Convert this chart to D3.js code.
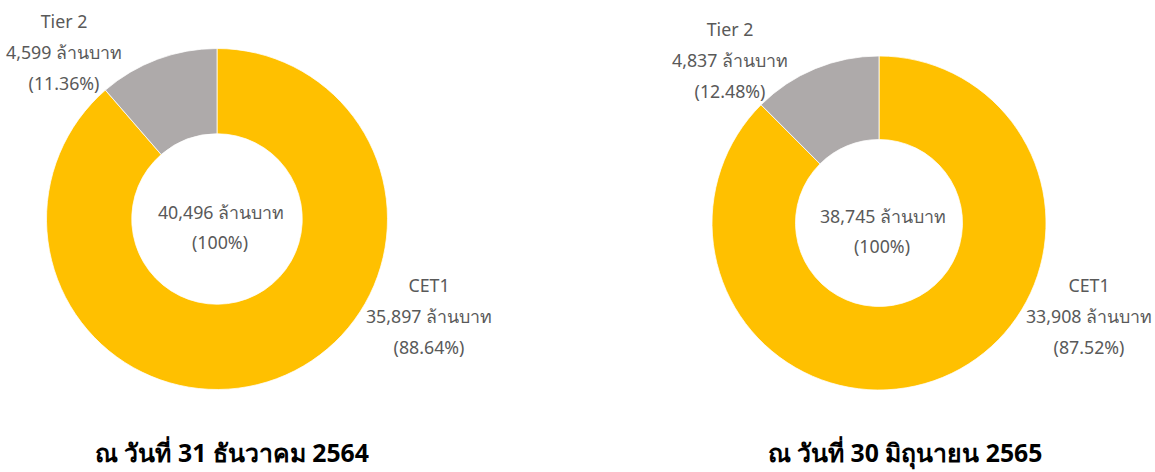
<!DOCTYPE html>
<html>
<head>
<meta charset="utf-8">
<script src="https://cdn.jsdelivr.net/npm/d3@7"></script>
<style>
  body { margin: 0; background: #fff; }
  svg { display: block; font-family: Tahoma, "Noto Sans", "DejaVu Sans", sans-serif; }
</style>
</head>
<body>
<div id="chart"></div>
<script>
// data
const categories = ["CET1", "Tier 2"];
const dateTitles = ["ณ วันที่ 31 ธันวาคม 2564", "ณ วันที่ 30 มิถุนายน 2565"];
const valuesDec2564 = [35897, 4599];
const valuesJun2565 = [33908, 4837];
const unit = "ล้านบาท";

const width = 1155, height = 472;

const svg = d3.select("#chart")
    .append("svg")
    .attr("width", width)
    .attr("height", height);

const colorScale = d3.scaleOrdinal()
    .domain(categories)
    .range(["#FFC000", "#AEAAAA"]);

const fmt = d3.format(",");
const pctFmt = d3.format(".2%");

// one donut per date
const charts = [
    { values: valuesDec2564, title: dateTitles[0], cx: 217, cy: 219, r: 170.5,
      labelPos: { "CET1": [212, 73], "Tier 2": [-153, -191] }, titleX: 232 },
    { values: valuesJun2565, title: dateTitles[1], cx: 879, cy: 223, r: 167,
      labelPos: { "CET1": [210, 69], "Tier 2": [-149, -187] }, titleX: 905 }
];

const pie = d3.pie().sort(null).value(d => d.value);

charts.forEach(c => {
    const data = categories.map((name, i) => ({ name: name, value: c.values[i] }));
    const total = d3.sum(data, d => d.value);

    const arc = d3.arc()
        .innerRadius(c.r * 0.5)
        .outerRadius(c.r);

    const g = svg.append("g")
        .attr("transform", `translate(${c.cx},${c.cy})`);

    g.selectAll("path")
        .data(pie(data))
        .enter()
        .append("path")
        .attr("d", arc)
        .attr("fill", d => colorScale(d.data.name))
        .attr("stroke", "white")
        .attr("stroke-width", 0.75);

    // slice labels
    data.forEach(d => {
        const [dx, dy] = c.labelPos[d.name];
        const lines = [d.name, `${fmt(d.value)} ${unit}`, `(${pctFmt(d.value / total)})`];
        g.append("text")
            .attr("text-anchor", "middle")
            .attr("font-size", 17.8)
            .attr("fill", "#595959")
            .selectAll("tspan")
            .data(lines)
            .enter()
            .append("tspan")
            .attr("x", dx)
            .attr("y", (t, i) => dy + i * 31)
            .text(t => t);
    });

    // centre total
    const centre = g.append("text")
        .attr("text-anchor", "middle")
        .attr("font-size", 17.8)
        .attr("fill", "#595959");
    centre.append("tspan").attr("x", 4).attr("y", 0).text(`${fmt(total)} ${unit}`);
    centre.append("tspan").attr("x", 3).attr("y", 30).text("(100%)");

    // date title under the donut
    svg.append("text")
        .attr("x", c.titleX)
        .attr("y", 462)
        .attr("text-anchor", "middle")
        .attr("font-size", 24.8)
        .attr("font-weight", "bold")
        .attr("fill", "#000")
        .text(c.title);
});
</script>
</body>
</html>
